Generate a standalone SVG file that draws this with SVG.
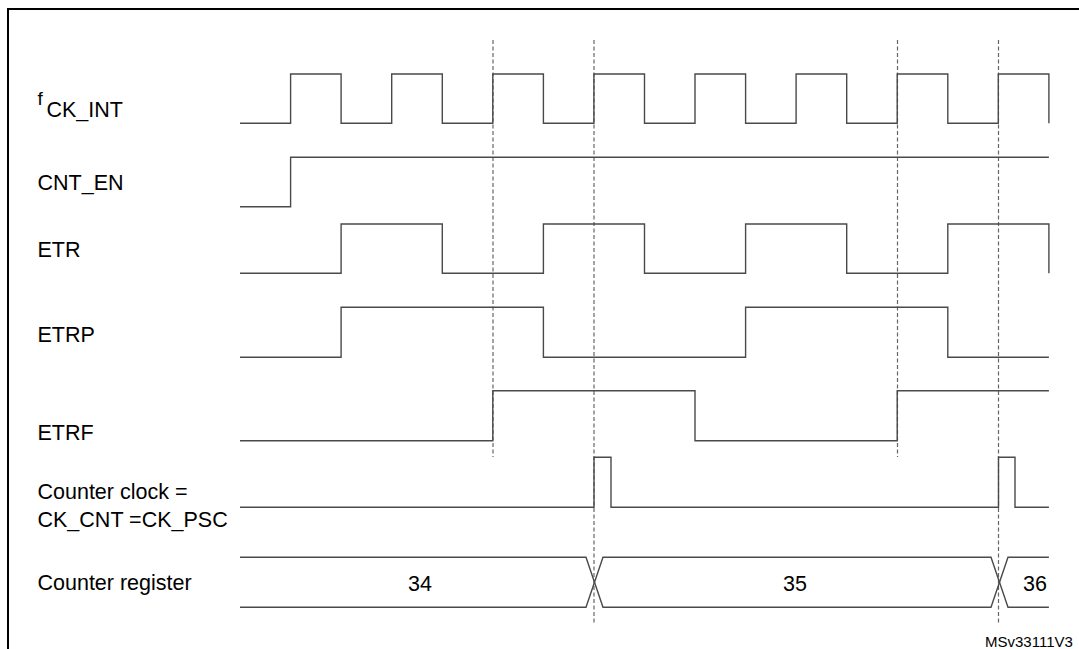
<svg xmlns="http://www.w3.org/2000/svg" width="1079" height="649" viewBox="0 0 1079 649">
<style>
.lbl{font-family:"Liberation Sans",Arial,sans-serif;font-size:21.5px;fill:#000}
.sm{font-family:"Liberation Sans",Arial,sans-serif;font-size:15px;fill:#000}
.w{fill:none;stroke:#4a4a4a;stroke-width:1.4}
.d{fill:none;stroke:#666;stroke-width:1.2;stroke-dasharray:4 2.5}
</style>
<rect x="0" y="0" width="1079" height="649" fill="#fff"/>
<rect x="8" y="9" width="1090" height="660" fill="none" stroke="#000" stroke-width="2"/>
<g id="connectors">
<line class="d" x1="493" y1="40" x2="493" y2="457"/>
<line class="d" x1="594" y1="40" x2="594" y2="624"/>
<line class="d" x1="897.5" y1="40" x2="897.5" y2="457"/>
<line class="d" x1="998.5" y1="40" x2="998.5" y2="624"/>
</g>
<g id="fck_int">
<text class="lbl"><tspan x="37.5" y="105" font-size="19">f</tspan><tspan x="46.5" y="117">CK_INT</tspan></text>
<path class="w" d="M240 123.3H290.6V74H341.1V123.3H391.7V74H442.3V123.3H492.8V74H543.4V123.3H593.9V74H644.5V123.3H695V74H745.6V123.3H796.1V74H846.7V123.3H897.2V74H947.8V123.3H998.3V74H1048.9V123.3"/>
</g>
<g id="cnt_en">
<text class="lbl" x="37.5" y="190">CNT_EN</text>
<path class="w" d="M240 206.7H290.6V157.3H1048.9"/>
</g>
<g id="etr">
<text class="lbl" x="37.5" y="257">ETR</text>
<path class="w" d="M240 273.3H341.1V224H442.3V273.3H543.4V224H644.5V273.3H745.6V224H846.7V273.3H947.8V224H1048.9V273.3"/>
</g>
<g id="etrp">
<text class="lbl" x="37.5" y="342">ETRP</text>
<path class="w" d="M240 357.3H341.1V307.3H543.4V357.3H745.6V307.3H947.8V357.3H1048.9"/>
</g>
<g id="etrf">
<text class="lbl" x="37.5" y="440">ETRF</text>
<path class="w" d="M240 440.7H492.8V390.7H695V440.7H897.2V390.7H1048.9"/>
</g>
<g id="counter_clock">
<text class="lbl"><tspan x="37.5" y="499">Counter clock =</tspan><tspan x="37.5" y="527.3">CK_CNT =CK_PSC</tspan></text>
<path class="w" d="M240 507.3H594V457.3H611V507.3H998.5V457.3H1015V507.3H1048.9"/>
</g>
<g id="counter_register">
<text class="lbl" x="37.5" y="590">Counter register</text>
<path class="w" d="M240 557.3H586L603 607.3H991L1008 557.3H1048.9"/>
<path class="w" d="M240 607.3H586L603 557.3H991L1008 607.3H1048.9"/>
<text class="lbl" x="420" y="590.7" text-anchor="middle">34</text>
<text class="lbl" x="795" y="590.7" text-anchor="middle">35</text>
<text class="lbl" x="1035" y="590.7" text-anchor="middle">36</text>
</g>
<text class="sm" x="985" y="647">MSv33111V3</text>
</svg>
